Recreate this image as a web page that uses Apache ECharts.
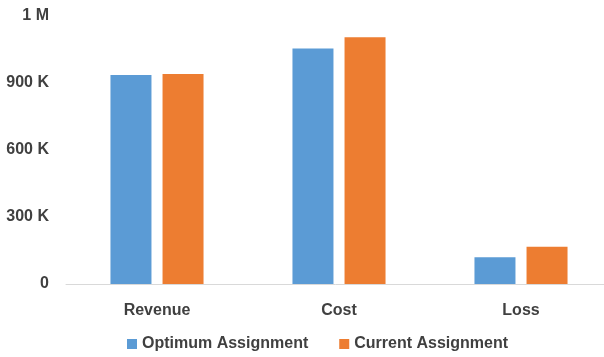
<!DOCTYPE html>
<html>
<head>
<meta charset="utf-8">
<script src="https://cdn.jsdelivr.net/npm/echarts@6/dist/echarts.min.js"></script>
<style>
  html, body { margin: 0; padding: 0; background: #fff; }
  #chart { width: 604px; height: 357px; }
</style>
</head>
<body>
<div id="chart"></div>
<script>
// Categories and series values (currency units)
const categories = ['Revenue', 'Cost', 'Loss'];
const optimumValues = [936000, 1054000, 120000];
const currentValues = [940000, 1105000, 167000];
const seriesNames = ['Optimum Assignment', 'Current Assignment'];

const textColor = '#404040';
const fontFamily = '"Liberation Sans", Arial, sans-serif';

function formatAxis(v) {
  if (v === 0) return '0';
  if (v >= 1000000) return Math.round(v / 1000000) + ' M';
  return Math.round(v / 1000) + ' K';
}

const chart = echarts.init(document.getElementById('chart'), null, { renderer: 'canvas' });
chart.setOption({
  animation: false,
  color: ['#5B9BD5', '#ED7D31'],
  grid: {
    left: 66, top: 16, width: 546, bottom: 73,
    containLabel: false, outerBoundsMode: 'none'
  },
  legend: {
    data: seriesNames,
    left: 122,
    top: 331,
    itemWidth: 10,
    itemHeight: 10,
    itemGap: 31,
    icon: 'rect',
    textStyle: { color: textColor, fontSize: 16, fontWeight: 'bold', fontFamily: fontFamily }
  },
  xAxis: {
    type: 'category',
    data: categories,
    axisLine: { lineStyle: { color: '#d9d9d9', width: 1 } },
    axisTick: { show: false },
    axisLabel: { color: textColor, fontSize: 16, fontWeight: 'bold', fontFamily: fontFamily, margin: 19 }
  },
  yAxis: {
    type: 'value',
    min: 0,
    max: 1200000,
    interval: 300000,
    splitLine: { show: false },
    axisLine: { show: false },
    axisTick: { show: false },
    axisLabel: {
      color: textColor, fontSize: 16, fontWeight: 'bold', fontFamily: fontFamily,
      margin: 17, formatter: formatAxis
    }
  },
  series: [
    {
      name: seriesNames[0], type: 'bar', data: optimumValues,
      barWidth: 41, barGap: '27%'
    },
    {
      name: seriesNames[1], type: 'bar', data: currentValues,
      barWidth: 41, barGap: '27%'
    }
  ]
});
</script>
</body>
</html>
